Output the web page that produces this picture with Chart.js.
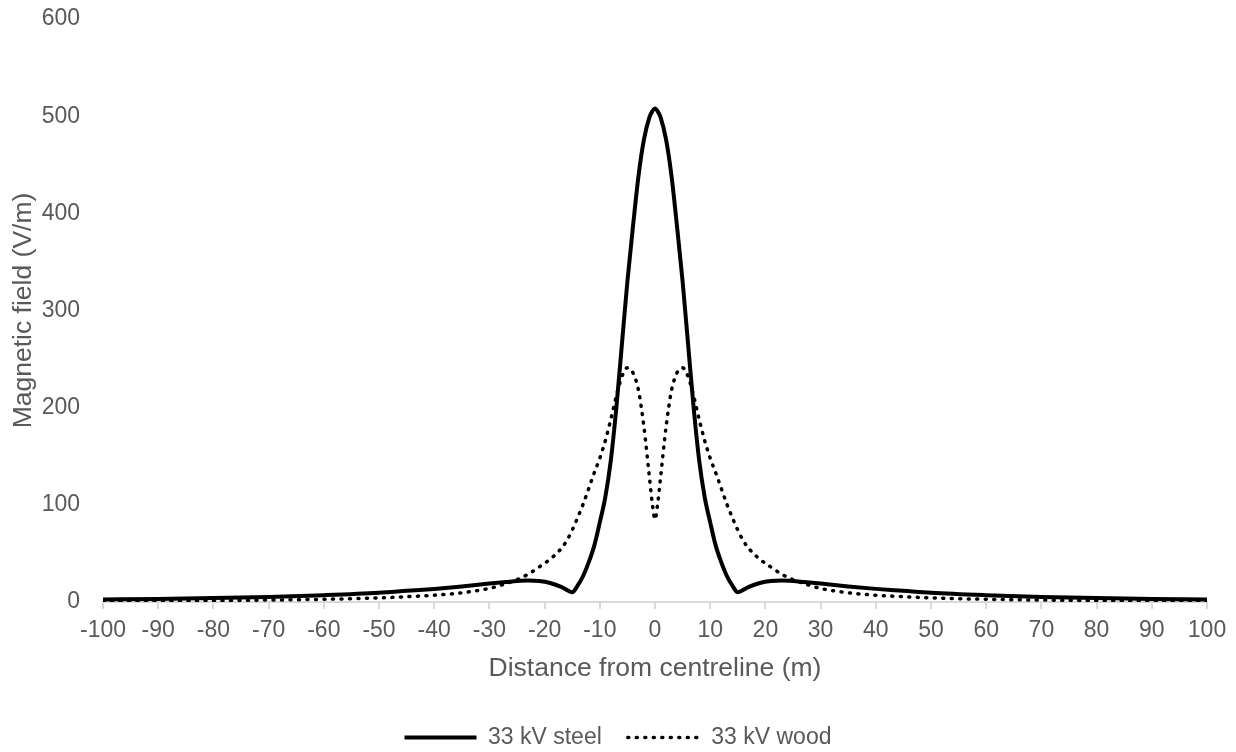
<!DOCTYPE html>
<html>
<head>
<meta charset="utf-8">
<script src="https://cdn.jsdelivr.net/npm/chart.js@4"></script>
<style>
    body { margin: 0; background: #fff; }
    #wrap { width: 1236px; height: 752px; }
</style>
</head>
<body>
<div id="wrap"><canvas id="canvas"></canvas></div>
<script>
const distances = [-100,-90,-80,-70,-60,-50,-45,-40,-35,-30,-27,-25,-23,-21,-19,-17,-16,-15,-14,-13,-12,-11,-10,-9,-8,-7,-6,-5,-4,-3,-2,-1,-0.5,0,0.5,1,2,3,4,5,6,7,8,9,10,11,12,13,14,15,16,17,19,21,23,25,27,30,35,40,45,50,60,70,80,90,100];
const steelField = [2.5,3.2,4,5.2,7,9.5,11.5,13.5,16,19,20.5,21.5,22,21.5,19.5,15.5,12.5,10,17,27,41,58,82,108,146,200,265,330,386,438,476,499,505,508,505,499,476,438,386,330,265,200,146,108,82,58,41,27,17,10,12.5,15.5,19.5,21.5,22,21.5,20.5,19,16,13.5,11.5,9.5,7,5.2,4,3.2,2.5];
const woodField = [1,1.2,1.5,2,2.8,4.2,5.5,7,9.5,14,19,23,28.5,36,44,55,63,74,87,101,117,133,148,166,188,212,232,241,236,218,180,128,102,85,102,128,180,218,236,241,232,212,188,166,148,133,117,101,87,74,63,55,44,36,28.5,23,19,14,9.5,7,5.5,4.2,2.8,2,1.5,1.2,1];

const seriesLabels = ['33 kV steel', '33 kV wood'];
const xTitle = 'Distance from centreline (m)';
const yTitle = 'Magnetic field (V/m)';

const textColor = '#595959';
const fontFamily = '"Liberation Sans", Arial, sans-serif';
const padBottom = -7;

function toPoints(ys) {
    return distances.map((x, i) => ({ x: x, y: ys[i] }));
}

// legend uses point options by default, so copy the line dash back from the dataset
function legendLabels(chart) {
    const items = Chart.defaults.plugins.legend.labels.generateLabels(chart);
    items.forEach((item, i) => {
        const ds = chart.data.datasets[i];
        item.lineDash = ds.borderDash || [];
        item.lineCap = ds.borderCapStyle || 'butt';
        item.lineWidth = ds.borderWidth;
        item.strokeStyle = ds.borderColor;
    });
    return items;
}

function buildChart() {
    const data = {
        datasets: [
            {
                label: seriesLabels[0],
                data: toPoints(steelField),
                borderColor: '#000',
                backgroundColor: '#000',
                borderWidth: 4,
                pointRadius: 0,
                pointStyle: 'line',
                cubicInterpolationMode: 'monotone'
            },
            {
                label: seriesLabels[1],
                data: toPoints(woodField),
                borderColor: '#000',
                backgroundColor: '#000',
                borderWidth: 3.5,
                borderDash: [1, 7.5],
                borderCapStyle: 'round',
                pointRadius: 0,
                pointStyle: 'line',
                cubicInterpolationMode: 'monotone'
            }
        ]
    };

    const options = {
        animation: false,
        responsive: true,
        maintainAspectRatio: false,
        layout: {
            padding: { left: 29, right: 29, top: 19, bottom: padBottom }
        },
        plugins: {
            tooltip: { enabled: false },
            legend: {
                position: 'bottom',
                labels: {
                    usePointStyle: true,
                    pointStyleWidth: 72,
                    padding: 26,
                    color: textColor,
                    font: { family: fontFamily, size: 23 },
                    generateLabels: legendLabels
                }
            }
        },
        scales: {
            x: {
                type: 'linear',
                min: -100,
                max: 100,
                afterFit: function(scale) {
                    scale.height = 752 - padBottom - 602 - scale.chart.legend.height;
                },
                ticks: {
                    stepSize: 10,
                    padding: 8,
                    color: textColor,
                    font: { family: fontFamily, size: 23 },
                    maxRotation: 0
                },
                grid: {
                    drawOnChartArea: false,
                    drawTicks: true,
                    tickLength: 7,
                    color: '#d9d9d9',
                    lineWidth: 2
                },
                border: { display: true, color: '#d9d9d9', width: 2 },
                title: {
                    display: true,
                    text: xTitle,
                    color: textColor,
                    font: { family: fontFamily, size: 26.5 },
                    padding: { top: 0, bottom: 15 }
                }
            },
            y: {
                min: 0,
                max: 600,
                afterFit: function(scale) {
                    scale.width = 103 - 29;
                    scale.paddingTop = 0;
                    scale.paddingBottom = 0;
                },
                ticks: {
                    stepSize: 100,
                    padding: 15,
                    color: textColor,
                    font: { family: fontFamily, size: 23 }
                },
                grid: { display: false },
                border: { display: false },
                title: {
                    display: true,
                    text: yTitle,
                    color: textColor,
                    font: { family: fontFamily, size: 26.5 },
                    padding: { top: -21, bottom: 0 }
                }
            }
        }
    };

    const ctx = document.getElementById('canvas').getContext('2d');
    window.chart = new Chart(ctx, {
        type: 'line',
        data: data,
        options: options
    });
}

buildChart();
</script>
</body>
</html>
